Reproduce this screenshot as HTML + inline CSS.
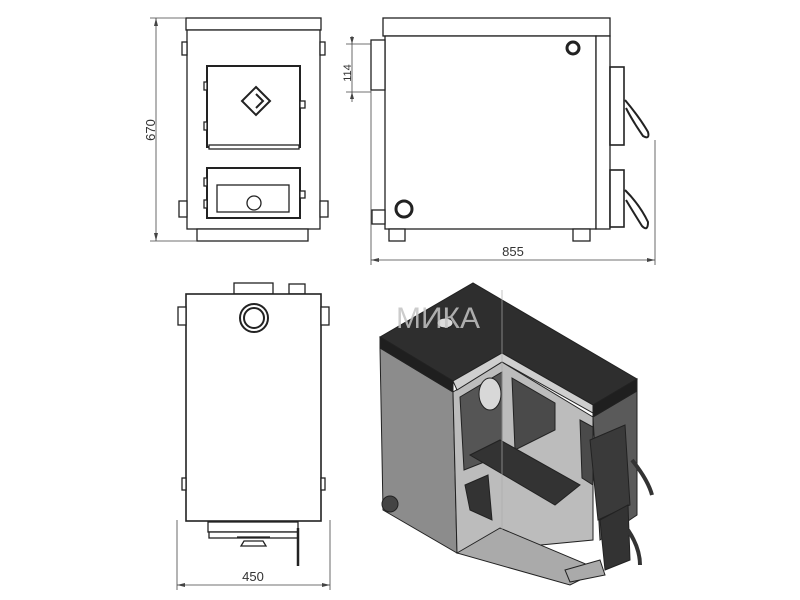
<!DOCTYPE html>
<html><head><style>html,body{margin:0;padding:0;background:#fff}svg{display:block}</style></head>
<body>
<svg width="800" height="600" viewBox="0 0 800 600" xmlns="http://www.w3.org/2000/svg" font-family="Liberation Sans, sans-serif">
<g fill="#fff" stroke="#222" stroke-width="1.3">
<!-- FRONT VIEW -->
<rect x="186" y="18" width="135" height="12"/>
<rect x="187" y="30" width="133" height="199"/>
<rect x="182" y="42" width="5" height="13"/><rect x="320" y="42" width="5" height="13"/>
<rect x="179" y="201" width="8" height="16"/><rect x="320" y="201" width="8" height="16"/>
<rect x="207" y="66" width="93" height="81" stroke-width="2"/>
<rect x="209" y="145" width="90" height="4"/>
<rect x="204" y="82" width="3" height="8"/><rect x="204" y="122" width="3" height="8"/>
<rect x="300" y="101" width="5" height="7"/>
<rect x="207" y="168" width="93" height="50" stroke-width="2"/>
<rect x="217" y="185" width="72" height="27"/>
<circle cx="254" cy="203" r="7"/>
<rect x="204" y="178" width="3" height="8"/><rect x="204" y="200" width="3" height="8"/>
<rect x="300" y="191" width="5" height="7"/>
<rect x="197" y="229" width="111" height="12"/>
<path d="M256 87 L270 101 L256 115 L242 101 Z M256 94 L263 101 L256 108" fill="none" stroke-width="2"/>
<!-- SIDE VIEW -->
<rect x="383" y="18" width="227" height="18"/>
<rect x="385" y="36" width="211" height="193"/>
<rect x="596" y="36" width="14" height="193"/>
<rect x="371" y="40" width="14" height="50"/>
<rect x="372" y="210" width="13" height="14"/>
<circle cx="573" cy="48" r="6" stroke-width="3"/>
<circle cx="404" cy="209" r="8" stroke-width="3"/>
<rect x="610" y="67" width="14" height="78" stroke-width="1.6"/>
<rect x="610" y="170" width="14" height="57" stroke-width="1.6"/>
<path d="M625 100 Q640 118 648 132 Q650 140 643 136 Q632 120 626 108" stroke-width="2"/>
<path d="M625 190 Q640 205 648 222 Q648 232 642 226 Q632 210 626 200" stroke-width="2"/>
<rect x="389" y="229" width="16" height="12"/><rect x="573" y="229" width="17" height="12"/>
<!-- TOP VIEW -->
<rect x="234" y="283" width="39" height="11"/>
<rect x="289" y="284" width="16" height="10"/>
<rect x="186" y="294" width="135" height="227" stroke-width="1.6"/>
<rect x="178" y="307" width="8" height="18"/><rect x="321" y="307" width="8" height="18"/>
<rect x="182" y="478" width="4" height="12"/><rect x="321" y="478" width="4" height="12"/>
<circle cx="254" cy="318" r="14" stroke-width="2"/><circle cx="254" cy="318" r="10" stroke-width="2"/>
<rect x="208" y="522" width="90" height="10"/>
<rect x="209" y="532" width="89" height="6"/>
<path d="M237 537 L270 537 M244 541 L263 541 L266 546 L241 546 Z"/>
<path d="M298 528 L298 566" stroke-width="2.5"/>
</g>
<!-- DIMENSIONS -->
<g stroke="#444" stroke-width="0.8" fill="none">
<path d="M156 18 V241 M150 18 H186 M150 241 H197"/>
<path d="M352 44 V92 M346 44 H371 M346 92 H371 M352 36 V44 M352 92 V102"/>
<path d="M371 90 V265 M655 140 V265 M371 260 H655"/>
<path d="M177 520 V590 M330 520 V590 M177 585 H330"/>
</g>
<g fill="#444">
<path d="M156 18 l-2 8 h4z M156 241 l-2 -8 h4z"/>
<path d="M352 44 l-2 -7 h4z M352 92 l-2 7 h4z"/>
<path d="M371 260 l8 -2 v4z M655 260 l-8 -2 v4z"/>
<path d="M177 585 l8 -2 v4z M330 585 l-8 -2 v4z"/>
</g>
<g font-size="13" fill="#333">
<text x="513" y="256" text-anchor="middle">855</text>
<text x="253" y="581" text-anchor="middle">450</text>
<text transform="translate(155,130) rotate(-90)" text-anchor="middle">670</text>
<text transform="translate(351,73) rotate(-90)" text-anchor="middle" font-size="11">114</text>
</g>
<!-- 3D VIEW -->
<g stroke="#222" stroke-width="1">
<polygon points="380,348 453,392 457,553 383,510" fill="#8c8c8c"/>
<polygon points="453,392 502,362 593,417 593,540 457,553" fill="#bcbcbc"/>
<polygon points="460,397 502,372 502,455 464,470" fill="#555"/>
<polygon points="512,378 555,403 555,430 515,450" fill="#4a4a4a"/>
<polygon points="580,420 593,427 593,485 582,478" fill="#4a4a4a"/>
<polygon points="593,417 637,391 637,515 600,540" fill="#5a5a5a"/>
<polygon points="380,337 473,283 637,379 593,405 502,353 453,381" fill="#2e2e2e"/>
<polygon points="380,337 453,381 453,392 380,348" fill="#1f1f1f"/>
<polygon points="593,405 637,379 637,391 593,417" fill="#1f1f1f"/>
<polygon points="453,381 502,353 593,405 593,413 502,362 457,390" fill="#cfcfcf"/>
<ellipse cx="490" cy="394" rx="11" ry="16" fill="#d8d8d8"/>
<polygon points="470,455 500,440 580,485 555,505" fill="#333"/>
<polygon points="465,485 488,475 492,520 470,510" fill="#333"/>
<polygon points="457,553 500,528 600,570 570,585" fill="#aaa"/>
<polygon points="590,440 625,425 630,505 598,520" fill="#3a3a3a"/>
<polygon points="600,520 628,505 630,560 605,570" fill="#333"/>
<path d="M632 460 Q648 480 652 495" stroke-width="4" fill="none" stroke="#333"/>
<path d="M628 530 Q640 548 640 565" stroke-width="4" fill="none" stroke="#333"/>
<circle cx="390" cy="504" r="8" fill="#444"/>
<ellipse cx="445" cy="323" rx="8" ry="5" fill="#ddd"/>
<polygon points="565,570 600,560 605,575 570,582" fill="#aaa"/>
</g>
<path d="M502 290 V555" stroke="#aaa" stroke-width="0.7"/>
<text x="396" y="328" font-size="30" fill="#c4c4c4" opacity="0.85">МИКА</text>
</svg>
</body></html>
